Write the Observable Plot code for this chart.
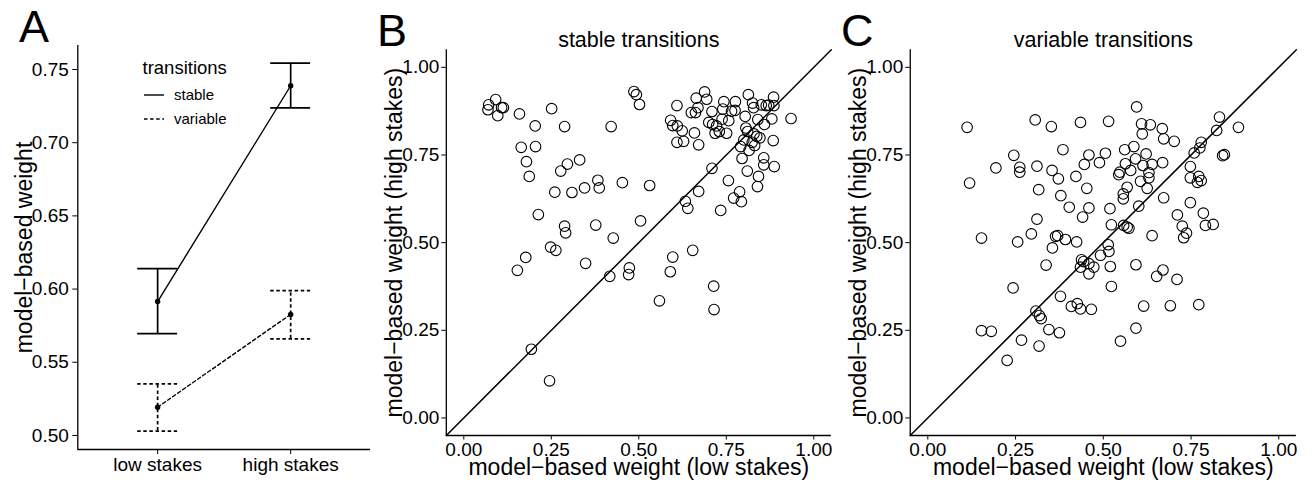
<!DOCTYPE html>
<html>
<head>
<meta charset="utf-8">
<script src="https://cdn.jsdelivr.net/npm/d3@7"></script>
<script src="https://cdn.jsdelivr.net/npm/@observablehq/plot@0.6"></script>
<style>
  body { margin: 0; background: #fff; }
  #wrap { position: relative; width: 1314px; height: 487px; overflow: hidden; background: #fff; }
  #wrap > svg { position: absolute; top: 0; }
</style>
</head>
<body>
<div id="wrap"></div>
<script>
// ---------------- data ----------------
const stakes = ["low stakes", "high stakes"];
const transitions = ["stable", "variable"];
const stableMean = [0.5915, 0.7389];
const stableLower = [0.5695, 0.7238];
const stableUpper = [0.6139, 0.7543];
const variableMean = [0.5193, 0.5827];
const variableLower = [0.503, 0.566];
const variableUpper = [0.5353, 0.599];
const ticksA = [0.50, 0.55, 0.60, 0.65, 0.70, 0.75];
const ticksBC = [0, 0.25, 0.5, 0.75, 1];

// panel B: stable transitions (x = low stakes, y = high stakes)
const stableLow = [0.091,0.071,0.069,0.097,0.108,0.113,0.159,0.251,0.204,0.288,0.421,0.164,0.205,0.179,0.187,0.296,0.331,0.277,0.383,0.387,0.345,0.309,0.260,0.453,0.213,0.288,0.291,0.377,0.427,0.248,0.263,0.486,0.493,0.502,0.609,0.688,0.694,0.664,0.669,0.650,0.662,0.591,0.597,0.610,0.624,0.659,0.609,0.628,0.671,0.709,0.700,0.711,0.722,0.718,0.730,0.751,0.738,0.757,0.743,0.740,0.765,0.776,0.775,0.813,0.825,0.828,0.850,0.864,0.871,0.885,0.886,0.804,0.840,0.880,0.935,0.859,0.806,0.811,0.829,0.837,0.846,0.800,0.824,0.831,0.791,0.815,0.884,0.795,0.857,0.857,0.887,0.810,0.842,0.839,0.756,0.709,0.671,0.633,0.640,0.788,0.771,0.793,0.734,0.531,0.505,0.177,0.153,0.348,0.473,0.471,0.417,0.597,0.654,0.590,0.714,0.559,0.715,0.193,0.245];
const stableHigh = [0.908,0.893,0.879,0.862,0.885,0.885,0.867,0.882,0.833,0.831,0.831,0.772,0.774,0.731,0.689,0.724,0.736,0.704,0.678,0.656,0.656,0.643,0.644,0.671,0.580,0.547,0.528,0.550,0.513,0.487,0.478,0.931,0.922,0.894,0.891,0.930,0.909,0.912,0.885,0.871,0.871,0.849,0.834,0.833,0.819,0.813,0.786,0.789,0.779,0.874,0.843,0.837,0.833,0.812,0.817,0.812,0.852,0.848,0.902,0.881,0.875,0.902,0.877,0.922,0.898,0.885,0.893,0.891,0.892,0.915,0.891,0.860,0.851,0.853,0.854,0.837,0.827,0.817,0.810,0.803,0.799,0.793,0.786,0.777,0.774,0.763,0.791,0.740,0.742,0.722,0.717,0.704,0.689,0.660,0.677,0.712,0.646,0.618,0.598,0.645,0.627,0.617,0.592,0.663,0.562,0.458,0.421,0.441,0.428,0.409,0.404,0.459,0.478,0.417,0.376,0.334,0.309,0.196,0.106];

// panel C: variable transitions
const variableLow = [0.112,0.306,0.352,0.435,0.515,0.385,0.459,0.506,0.489,0.446,0.245,0.194,0.262,0.262,0.311,0.354,0.372,0.422,0.119,0.316,0.453,0.379,0.403,0.459,0.519,0.441,0.311,0.295,0.364,0.370,0.392,0.424,0.355,0.153,0.256,0.523,0.514,0.516,0.492,0.438,0.444,0.459,0.337,0.520,0.544,0.547,0.561,0.557,0.557,0.595,0.609,0.634,0.611,0.668,0.672,0.702,0.831,0.885,0.823,0.779,0.775,0.759,0.840,0.845,0.748,0.748,0.772,0.779,0.768,0.587,0.622,0.592,0.563,0.613,0.639,0.669,0.578,0.630,0.630,0.606,0.625,0.568,0.601,0.672,0.748,0.711,0.785,0.791,0.813,0.725,0.737,0.729,0.558,0.568,0.573,0.639,0.593,0.670,0.652,0.473,0.459,0.435,0.710,0.523,0.243,0.378,0.409,0.426,0.435,0.466,0.308,0.318,0.323,0.345,0.375,0.615,0.691,0.772,0.593,0.549,0.153,0.181,0.267,0.317,0.226];
const variableHigh = [0.829,0.850,0.831,0.843,0.846,0.765,0.750,0.755,0.728,0.723,0.749,0.713,0.715,0.701,0.718,0.706,0.682,0.689,0.670,0.651,0.655,0.634,0.601,0.599,0.597,0.573,0.567,0.525,0.518,0.520,0.509,0.502,0.485,0.513,0.502,0.551,0.494,0.475,0.464,0.451,0.446,0.440,0.436,0.432,0.694,0.701,0.765,0.639,0.625,0.887,0.839,0.836,0.810,0.825,0.796,0.789,0.858,0.829,0.820,0.786,0.770,0.756,0.748,0.751,0.717,0.685,0.689,0.677,0.672,0.774,0.753,0.739,0.725,0.720,0.723,0.728,0.706,0.700,0.685,0.675,0.655,0.658,0.604,0.628,0.614,0.579,0.584,0.549,0.552,0.547,0.527,0.514,0.549,0.544,0.541,0.520,0.437,0.422,0.404,0.430,0.411,0.430,0.395,0.375,0.371,0.347,0.318,0.326,0.311,0.310,0.305,0.292,0.283,0.252,0.243,0.319,0.320,0.323,0.256,0.219,0.249,0.247,0.222,0.205,0.164];

// ---------------- rendering ----------------
const FONT = '"Liberation Sans", Arial, Helvetica, sans-serif';
const wrap = document.getElementById("wrap");
const fmt2 = d3.format(".2f");
const baseStyle = {fontSize: "19px", fontFamily: FONT, color: "black", background: "transparent", overflow: "visible"};

// Panel A
const xDomA = [0.4, 2.6];
const yDomA = [0.4904, 0.7664];
const capHalf = 0.15;
const series = [
  {name: transitions[0], mean: stableMean, lo: stableLower, hi: stableUpper, dash: null},
  {name: transitions[1], mean: variableMean, lo: variableLower, hi: variableUpper, dash: "3.5,2.6"}
];
const marksA = [
  Plot.ruleX([xDomA[0]], {stroke: "black", strokeWidth: 1.3}),
  Plot.ruleY([yDomA[0]], {stroke: "black", strokeWidth: 1.3})
];
for (const s of series) {
  const rows = stakes.map((k, i) => ({pos: i + 1, mean: s.mean[i], lo: s.lo[i], hi: s.hi[i]}));
  marksA.push(
    Plot.ruleX(rows, {x: "pos", y1: "lo", y2: "hi", stroke: "black", strokeWidth: 1.7, strokeDasharray: s.dash}),
    Plot.ruleY(rows, {y: "lo", x1: d => d.pos - capHalf, x2: d => d.pos + capHalf, stroke: "black", strokeWidth: 1.7, strokeDasharray: s.dash}),
    Plot.ruleY(rows, {y: "hi", x1: d => d.pos - capHalf, x2: d => d.pos + capHalf, stroke: "black", strokeWidth: 1.7, strokeDasharray: s.dash}),
    Plot.line(rows, {x: "pos", y: "mean", stroke: "black", strokeWidth: 1.4, strokeDasharray: s.dash}),
    Plot.dot(rows, {x: "pos", y: "mean", r: 2.7, fill: "black", stroke: "none"})
  );
}
marksA.push(Plot.text(["model\u2212based weight"], {text: d => d, frameAnchor: "left", textAnchor: "middle", lineAnchor: "middle", rotate: -90, dx: -53, fontSize: 23}));

const A = Plot.plot({
  width: 380, height: 487,
  marginLeft: 77.3, marginRight: 10, marginTop: 45, marginBottom: 38,
  style: baseStyle,
  x: {domain: xDomA, ticks: [1, 2], tickFormat: i => stakes[i - 1], tickSize: 5, tickPadding: 3, label: null},
  y: {domain: yDomA, ticks: ticksA, tickFormat: fmt2, tickSize: 5, tickPadding: 4, label: null},
  marks: marksA
});
A.style.left = "0px";
wrap.appendChild(A);

// Panels B and C
const lim = [-0.05, 1.05];
function scatter(xs, ys, title, left, width, mL, mR) {
  const pts = xs.map((x, i) => ({low: x, high: ys[i]}));
  const svg = Plot.plot({
    width, height: 487,
    marginLeft: mL, marginRight: mR, marginTop: 49.3, marginBottom: 52,
    style: baseStyle,
    x: {domain: lim, ticks: ticksBC, tickFormat: fmt2, tickSize: 4.5, tickPadding: 2.5, label: null},
    y: {domain: lim, ticks: ticksBC, tickFormat: fmt2, tickSize: 4.5, tickPadding: 2.5, label: null},
    marks: [
      Plot.ruleX([lim[0]], {stroke: "black", strokeWidth: 1.3}),
      Plot.ruleY([lim[0]], {stroke: "black", strokeWidth: 1.3}),
      Plot.dot(pts, {x: "low", y: "high", r: 5.3, fill: "none", stroke: "black", strokeWidth: 1.1}),
      Plot.line(lim.map(v => ({low: v, high: v})), {x: "low", y: "high", stroke: "black", strokeWidth: 1.5}),
      Plot.text([title], {text: d => d, frameAnchor: "top", textAnchor: "middle", lineAnchor: "middle", dy: -10, fontSize: 21.5}),
      Plot.text(["model\u2212based weight (low stakes)"], {text: d => d, frameAnchor: "bottom", textAnchor: "middle", lineAnchor: "middle", dy: 32, fontSize: 23}),
      Plot.text(["model\u2212based weight (high stakes)"], {text: d => d, frameAnchor: "left", textAnchor: "middle", lineAnchor: "middle", rotate: -90, dx: -52, fontSize: 23})
    ]
  });
  svg.style.left = left + "px";
  wrap.appendChild(svg);
}
scatter(stableLow, stableHigh, "stable transitions", 380, 460, 65.8, 9.2);
scatter(variableLow, variableHigh, "variable transitions", 840, 474, 69.75, 18.15);

// Overlay: panel tags and legend of panel A
const ov = d3.select(wrap).append("svg")
  .attr("width", 1314).attr("height", 487)
  .style("left", "0px").style("pointer-events", "none")
  .style("font-family", FONT);
const tags = [{t: "A", x: 19, y: 42}, {t: "B", x: 377, y: 46}, {t: "C", x: 841, y: 46}];
ov.selectAll("text.tag").data(tags).join("text").attr("class", "tag")
  .attr("x", d => d.x).attr("y", d => d.y).attr("font-size", 45).text(d => d.t);

const leg = ov.append("g");
leg.append("text").attr("x", 142.5).attr("y", 73.5).attr("font-size", 18.5).text("transitions");
series.forEach((s, i) => {
  const y = 95 + i * 24;
  leg.append("line").attr("x1", 144).attr("x2", 164).attr("y1", y).attr("y2", y)
    .attr("stroke", "black").attr("stroke-width", 1.4).attr("stroke-dasharray", s.dash);
  leg.append("text").attr("x", 174).attr("y", y + 5).attr("font-size", 15).text(s.name);
});
</script>
</body>
</html>
